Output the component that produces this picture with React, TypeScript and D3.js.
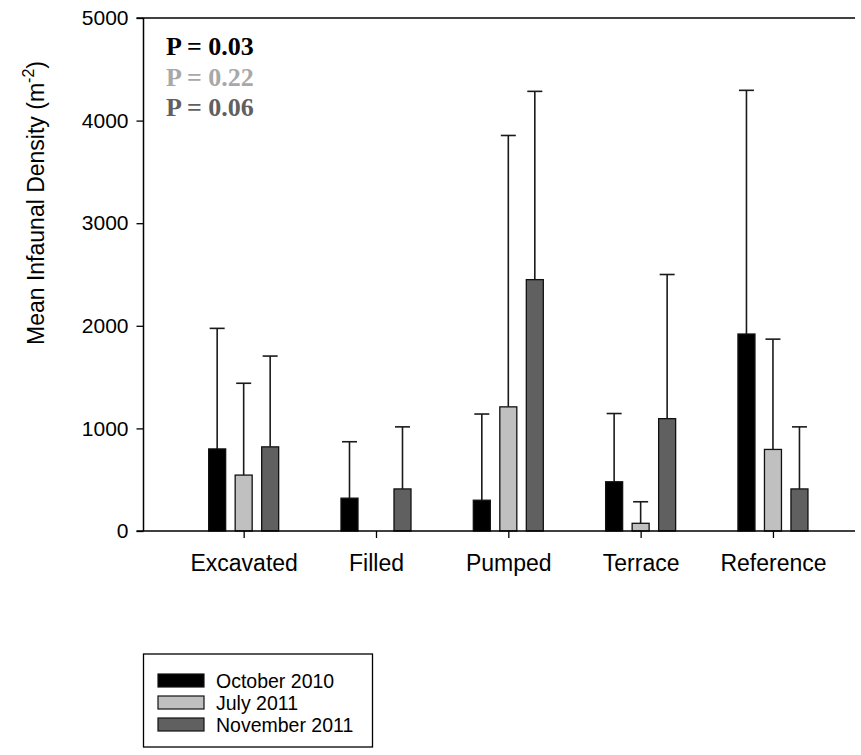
import React, { useEffect, useRef } from "react";
import * as d3 from "d3";

const sites = ["Excavated", "Filled", "Pumped", "Terrace", "Reference"];
const seriesNames = ["October 2010", "July 2011", "November 2011"];
const seriesColors = ["#000000", "#c0c0c0", "#606060"];
const pColors = ["#000000", "#a8a8a8", "#606060"];
const pLabels = ["P = 0.03", "P = 0.22", "P = 0.06"];

// mean values per site
const oct2010 = [800, 320, 300, 480, 1920];
const jul2011 = [545, 0, 1210, 75, 795];
const nov2011 = [820, 410, 2450, 1095, 410];

// top of error bar (mean + SE)
const oct2010Err = [1975, 870, 1140, 1145, 4295];
const jul2011Err = [1440, 0, 3855, 285, 1870];
const nov2011Err = [1705, 1015, 4285, 2500, 1015];

const yTicks = [0, 1000, 2000, 3000, 4000, 5000];

const App = () => {
    const chartRef = useRef(null);

    useEffect(() => {
        const svg = d3.select(chartRef.current);
        svg.selectAll("*").remove();

        const width = 861;
        const height = 755;
        const left = 143.5;
        const right = 855;
        const top = 18;
        const bottom = 531;

        svg.attr("width", width).attr("height", height);

        const means = [oct2010, jul2011, nov2011];
        const errs = [oct2010Err, jul2011Err, nov2011Err];

        const x = d3.scaleLinear().domain([-0.757, 4.62]).range([left, right]);
        const y = d3.scaleLinear().domain([0, 5000]).range([bottom, top]);
        const offset = d3.scalePoint().domain(seriesNames).range([-26.5, 26.5]);
        const barW = 17;

        const data = [];
        means.forEach((arr, s) => {
            arr.forEach((v, i) => {
                data.push({ s, i, v, e: errs[s][i] });
            });
        });

        // error bars first (behind bars)
        const eb = svg.append("g").attr("stroke", "#1a1a1a").attr("stroke-width", 1.6);
        data.filter((d) => d.e > d.v).forEach((d) => {
            const cx = x(d.i) + offset(seriesNames[d.s]);
            eb.append("line").attr("x1", cx).attr("x2", cx).attr("y1", y(d.v)).attr("y2", y(d.e));
            eb.append("line").attr("x1", cx - 7.5).attr("x2", cx + 7.5).attr("y1", y(d.e)).attr("y2", y(d.e));
        });

        // bars
        svg.append("g")
            .selectAll("rect")
            .data(data.filter((d) => d.v > 0))
            .join("rect")
            .attr("x", (d) => x(d.i) + offset(seriesNames[d.s]) - barW / 2)
            .attr("y", (d) => y(d.v))
            .attr("width", barW)
            .attr("height", (d) => y(0) - y(d.v))
            .attr("fill", (d) => seriesColors[d.s])
            .attr("stroke", "#111")
            .attr("stroke-width", 1.3);

        // Y axis
        const yAxis = svg.append("g")
            .attr("transform", `translate(${left},0)`)
            .call(d3.axisLeft(y).tickValues(yTicks).tickSize(7).tickPadding(8).tickFormat(d3.format("d")));
        yAxis.select(".domain").attr("stroke", "#000").attr("stroke-width", 1.5).attr("d", `M0,${bottom}V${top}`);
        yAxis.selectAll(".tick line").attr("stroke-width", 1.3);
        yAxis.selectAll("text")
            .attr("font-family", "Liberation Sans, Arial, sans-serif")
            .attr("font-size", 21)
            .attr("fill", "#000");

        // X axis
        const xAxis = svg.append("g")
            .attr("transform", `translate(0,${bottom})`)
            .call(d3.axisBottom(x).tickValues(d3.range(sites.length)).tickSize(7).tickPadding(17).tickFormat((i) => sites[i]));
        xAxis.select(".domain").attr("stroke", "#000").attr("stroke-width", 1.5).attr("d", `M${left - 7},0H${right}`);
        xAxis.selectAll(".tick line").attr("stroke-width", 1.3);
        xAxis.selectAll("text")
            .attr("font-family", "Liberation Sans, Arial, sans-serif")
            .attr("font-size", 23)
            .attr("fill", "#000");

        // top border
        svg.append("line")
            .attr("x1", left - 7).attr("x2", right)
            .attr("y1", top).attr("y2", top)
            .attr("stroke", "#000").attr("stroke-width", 1.5);

        // y axis title
        const title = svg.append("text")
            .attr("transform", `translate(44,203) rotate(-90)`)
            .attr("text-anchor", "middle")
            .attr("font-family", "Liberation Sans, Arial, sans-serif")
            .attr("font-size", 23)
            .attr("fill", "#000");
        title.append("tspan").text("Mean Infaunal Density (m");
        title.append("tspan").attr("font-size", 16).attr("dy", -10).text("-2");
        title.append("tspan").attr("dy", 10).text(")");

        // P values
        svg.append("g")
            .selectAll("text")
            .data(pLabels)
            .join("text")
            .attr("x", 166)
            .attr("y", (d, i) => 55 + i * 30.5)
            .attr("font-family", "Liberation Serif, Times New Roman, serif")
            .attr("font-weight", "bold")
            .attr("font-size", 26)
            .attr("fill", (d, i) => pColors[i])
            .text((d) => d);

        // legend
        const lg = svg.append("g");
        lg.append("rect")
            .attr("x", 143.5).attr("y", 654)
            .attr("width", 229).attr("height", 93)
            .attr("fill", "none").attr("stroke", "#000").attr("stroke-width", 1.3);
        seriesNames.forEach((name, i) => {
            const ry = 681 + i * 22;
            lg.append("rect")
                .attr("x", 158).attr("y", ry - 7)
                .attr("width", 46).attr("height", 13)
                .attr("fill", seriesColors[i]).attr("stroke", "#111").attr("stroke-width", 1.2);
            lg.append("text")
                .attr("x", 216).attr("y", ry + 7)
                .attr("font-family", "Liberation Sans, Arial, sans-serif")
                .attr("font-size", 19.5)
                .attr("fill", "#000")
                .text(name);
        });
    }, []);

    return <svg ref={chartRef} style={{ position: "absolute", left: 0, top: 0 }}></svg>;
};

export default App;
